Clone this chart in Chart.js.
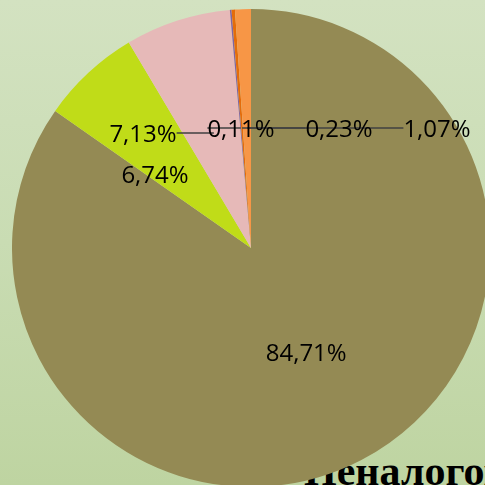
<!DOCTYPE html>
<html>
<head>
<meta charset="utf-8">
<script src="https://cdn.jsdelivr.net/npm/chart.js@4"></script>
<style>
  html, body { margin: 0; padding: 0; }
  body {
    width: 485px; height: 485px; overflow: hidden; position: relative;
    background: linear-gradient(180deg, #D3E2C1 0%, #C9DCB3 50%, #BED4A1 100%);
  }
  #wrap { position: absolute; left: 12px; top: 9px; width: 478px; height: 478px; z-index: 2; }
  #title {
    position: absolute; left: 304px; top: 450px; z-index: 1;
    font-family: 'Liberation Serif', 'Times New Roman', serif; font-weight: bold;
    font-size: 42px; line-height: 1; white-space: nowrap; color: #000;
  }
</style>
</head>
<body>
<div id="title">Неналоговые доходы</div>
<div id="wrap"><canvas id="pie" width="478" height="478"></canvas></div>
<script>
const categories = ['Доля 1', 'Доля 2', 'Доля 3', 'Доля 4', 'Доля 5', 'Доля 6'];
const shares = [84.71, 6.74, 7.13, 0.11, 0.23, 1.07];
const shareLabels = ['84,71%', '6,74%', '7,13%', '0,11%', '0,23%', '1,07%'];
const sliceColors = ['#948A54', '#C0DC18', '#E6B9B8', '#8064A2', '#E46C0A', '#F79646'];

// label placement: null = on the slice's mid-angle at half radius, else offset from centre
const labelOffsets = [null, [-96, -72], [-108, -113], [-10, -118], [88, -118], [186, -118]];
const leaderSide = [null, null, 'right', 'left', 'left', 'left'];

const labelPlugin = {
  id: 'pieLabels',
  afterDatasetsDraw(chart) {
    const { ctx } = chart;
    const arcs = chart.getDatasetMeta(0).data;
    ctx.save();
    ctx.font = "24px 'Open Sans', sans-serif";
    ctx.textAlign = 'center';
    ctx.textBaseline = 'middle';
    const pts = arcs.map((arc, i) => {
      const mid = (arc.startAngle + arc.endAngle) / 2;
      const off = labelOffsets[i];
      if (!off) {
        const r = arc.outerRadius * 0.5;
        return { x: arc.x + Math.cos(mid) * r, y: arc.y + Math.sin(mid) * r, mid };
      }
      return { x: arc.x + off[0], y: arc.y + off[1], mid };
    });
    // leader lines
    ctx.strokeStyle = '#404040';
    ctx.lineWidth = 1.5;
    arcs.forEach((arc, i) => {
      const side = leaderSide[i];
      if (!side) return;
      const p = pts[i];
      const w = ctx.measureText(shareLabels[i]).width;
      const ly = p.y - 2;
      const sx = arc.x + (ly - arc.y) / Math.tan(p.mid);
      const ex = side === 'right' ? p.x + w / 2 : p.x - w / 2;
      ctx.beginPath();
      ctx.moveTo(ex, ly);
      ctx.lineTo(sx, ly);
      ctx.stroke();
    });
    ctx.fillStyle = '#000';
    pts.forEach((p, i) => ctx.fillText(shareLabels[i], p.x, p.y));
    ctx.restore();
  }
};

new Chart(document.getElementById('pie'), {
  type: 'pie',
  data: {
    labels: categories,
    datasets: [{
      data: shares,
      backgroundColor: sliceColors,
      borderWidth: 0,
    }],
  },
  options: {
    responsive: false,
    animation: false,
    layout: { padding: 0 },
    plugins: { legend: { display: false }, tooltip: { enabled: false } },
  },
  plugins: [labelPlugin],
});
</script>
</body>
</html>
